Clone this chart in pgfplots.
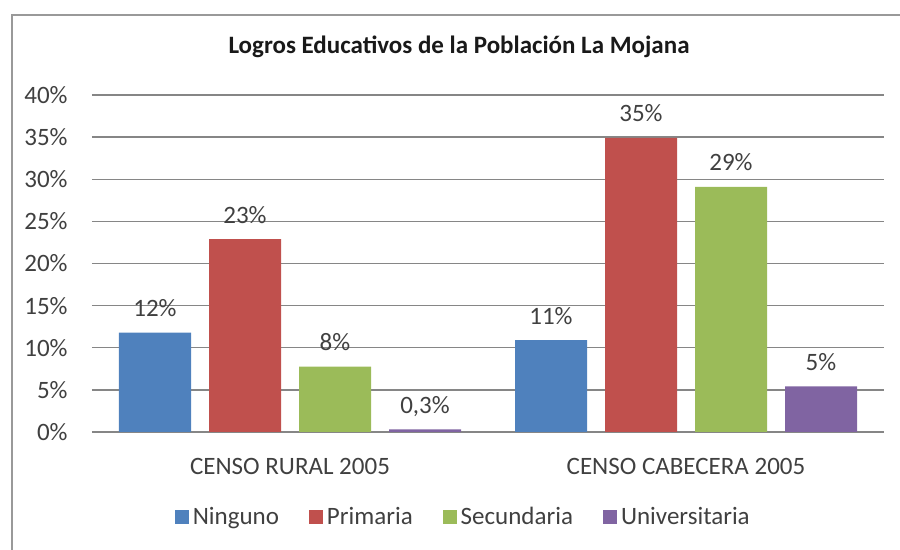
\documentclass[border=0pt]{standalone}
\usepackage{pgfplots}
\pgfplotsset{compat=1.18}
\usepackage{fontspec}
\setmainfont{Carlito}
\definecolor{cblue}{HTML}{4F81BD}
\definecolor{cred}{HTML}{C0504D}
\definecolor{cgreen}{HTML}{9BBB59}
\definecolor{cpurple}{HTML}{8064A2}
\definecolor{txt}{HTML}{404040}
\definecolor{gridc}{HTML}{868686}
\begin{document}
\begin{tikzpicture}
\useasboundingbox (0,0) rectangle (450pt,275pt);
\draw[color=gray!80, line width=1pt] (6pt,0) -- (6pt,267.5pt) -- (451pt,267.5pt);
\node[font=\fontsize{12.5}{14}\selectfont\bfseries, text=black!90] at (229.5pt,251.5pt) {Logros Educativos de la Población La Mojana};
\begin{axis}[
  scale only axis,
  width=396pt, height=168.5pt,
  at={(46pt,59pt)}, anchor=south west,
  ybar=9pt, bar width=36pt,
  xmin=-0.5, xmax=1.5,
  ymin=0, ymax=40,
  xtick={0,1},
  xticklabels={CENSO RURAL 2005, CENSO CABECERA 2005},
  ytick={0,5,10,15,20,25,30,35,40},
  yticklabels={0\%,5\%,10\%,15\%,20\%,25\%,30\%,35\%,40\%},
  major tick length=0pt,
  axis line style={draw=none},
  ymajorgrids,
  grid style={color=gridc, line width=0.7pt},
  ticklabel style={font=\fontsize{12.5}{14}\selectfont, text=txt},
  yticklabel style={anchor=east, inner sep=0pt, xshift=-12pt},
  xticklabel style={anchor=north, inner sep=0pt, yshift=-13pt},
  point meta=explicit symbolic,
  nodes near coords,
  every node near coord/.append style={font=\fontsize{12.5}{14}\selectfont, text=txt, anchor=base, inner sep=0pt, yshift=8pt},
  legend style={at={(0.470,-0.252)}, anchor=center, draw=none, fill=none,
    legend columns=4, font=\fontsize{12.5}{14}\selectfont, text=txt,
    /tikz/every even column/.append style={column sep=13pt}},
  legend image code/.code={\fill[#1] (0pt,-3.5pt) rectangle (7pt,3.5pt);},
]
\addplot[fill=cblue, draw=none] coordinates {(0,11.8) [12\%] (1,10.9) [11\%]};
\addplot[fill=cred, draw=none] coordinates {(0,22.9) [23\%] (1,34.9) [35\%]};
\addplot[fill=cgreen, draw=none] coordinates {(0,7.75) [8\%] (1,29.1) [29\%]};
\addplot[fill=cpurple, draw=none] coordinates {(0,0.3) [{0,3\%}] (1,5.4) [5\%]};
\legend{Ninguno, Primaria, Secundaria, Universitaria}
\end{axis}
\end{tikzpicture}
\end{document}
